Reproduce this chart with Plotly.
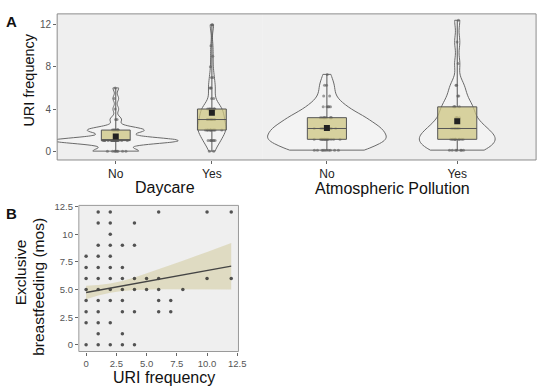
import numpy as np
import plotly.graph_objects as go

# ---------------- data ----------------
groups = ["No", "Yes"]

# URI frequency samples (panel A), read from the jittered points / violins
daycare_no = [0]*8 + [1]*22 + [2]*10 + [3]*2 + [4, 5, 6]
daycare_yes = [0]*2 + [1]*7 + [2]*12 + [3]*10 + [4]*9 + [5]*2 + [6]*3 + [7]*2 + [8, 9, 10, 12, 12]
pollution_no = [0]*10 + [1]*16 + [2]*14 + [3]*10 + [4]*5 + [5]*2 + [6]*2 + [7]
pollution_yes = [0]*7 + [1]*10 + [2]*7 + [3]*4 + [4]*4 + [5]*2 + [6]*2 + [8, 10, 12]

# Panel B scatter: URI frequency vs exclusive breastfeeding (months)
uri_freq = [1, 2, 6, 10, 12,
            1, 2, 4,
            2,
            1, 2, 3, 4,
            0, 1, 2,
            0, 1, 2, 3,
            0, 1, 2, 3, 4, 5, 6, 10, 12,
            0, 1, 2, 3, 4, 5, 6, 8,
            0, 1, 2, 3, 6, 7,
            0, 1, 3, 4, 6, 7,
            0, 1, 2,
            1, 3,
            0, 1, 2, 3, 4]
breastfeeding = [12]*5 + [11]*3 + [10] + [9]*4 + [8]*3 + [7]*4 + [6]*9 + [5]*8 + [4]*6 + [3]*6 + [2]*3 + [1]*2 + [0]*5

# Fitted line and confidence band
fit_x = [0, 12]
fit_y = [4.73, 7.11]
band_x = [0, 1, 2, 3, 4, 6, 8, 10, 12]
band_lo = [4.11, 4.45, 4.71, 4.87, 4.96, 5.02, 5.02, 5.02, 5.01]
band_hi = [5.35, 5.41, 5.55, 5.77, 6.08, 6.82, 7.60, 8.40, 9.21]

# ---------------- layout helpers ----------------
W, H = 550, 390
def xd(a, b):
    return [a / W, b / W]
def yd(top, bottom):
    return [1 - bottom / H, 1 - top / H]

FONT = "Liberation Sans, Arial, sans-serif"
BOX_FILL = "rgba(205,198,130,0.75)"
VIO_LINE = "#6a6a6a"
PT_COL = "rgba(95,95,95,0.6)"

fig = go.Figure()

def add_group(vals, cat, xa, ya, bw, vwidth, jit, gid):
    fig.add_trace(go.Violin(
        x=[cat] * len(vals), y=vals, xaxis=xa, yaxis=ya,
        name=gid, scalegroup=gid,
        points="all", pointpos=0, jitter=jit, spanmode="hard",
        bandwidth=bw, scalemode="width", width=vwidth,
        line=dict(color=VIO_LINE, width=1),
        fillcolor="rgba(255,255,255,0.25)",
        marker=dict(size=3, color=PT_COL),
        box_visible=False, meanline_visible=False,
        showlegend=False, hoverinfo="skip"))
    fig.add_trace(go.Box(
        x=[cat] * len(vals), y=vals, xaxis=xa, yaxis=ya,
        boxpoints=False, width=0.3, whiskerwidth=0,
        fillcolor=BOX_FILL, line=dict(color="#555555", width=1),
        showlegend=False, hoverinfo="skip"))
    fig.add_trace(go.Scatter(
        x=[cat], y=[float(np.mean(vals))], xaxis=xa, yaxis=ya,
        mode="markers", marker=dict(symbol="square", size=6, color="#222222"),
        showlegend=False, hoverinfo="skip"))

add_group(daycare_no, groups[0], "x", "y", 0.3, 1.3, 0.21, "dn")
add_group(daycare_yes, groups[1], "x", "y", 0.6, 0.29, 0.8, "dy")
add_group(pollution_no, groups[0], "x2", "y2", 0.6, 0.91, 0.25, "pn")
add_group(pollution_yes, groups[1], "x2", "y2", 0.7, 0.58, 0.32, "py")

# Panel B
fig.add_trace(go.Scatter(
    x=band_x + band_x[::-1], y=band_hi + band_lo[::-1],
    xaxis="x3", yaxis="y3", mode="lines", fill="toself",
    fillcolor="rgba(205,195,140,0.45)", line=dict(width=0),
    showlegend=False, hoverinfo="skip"))
fig.add_trace(go.Scatter(
    x=uri_freq, y=breastfeeding, xaxis="x3", yaxis="y3", mode="markers",
    marker=dict(size=3.5, color="rgba(30,30,30,0.75)"),
    showlegend=False, hoverinfo="skip"))
fig.add_trace(go.Scatter(
    x=fit_x, y=fit_y, xaxis="x3", yaxis="y3", mode="lines",
    line=dict(color="#444444", width=1.3),
    showlegend=False, hoverinfo="skip"))

tick_common = dict(showgrid=False, zeroline=False, ticks="outside", ticklen=3,
                   tickcolor="#666666", showline=False)

fig.update_layout(
    width=W, height=H, margin=dict(l=0, r=0, t=0, b=0),
    paper_bgcolor="white", plot_bgcolor="#EFEFEF",
    font=dict(family=FONT, color="#222222"),
    violinmode="overlay", boxmode="overlay",
    xaxis=dict(domain=xd(58, 266), anchor="y", type="category",
               categoryarray=groups, range=[-0.61, 1.523],
               tickfont=dict(size=12, color="#222222"), **tick_common),
    yaxis=dict(domain=yd(9, 157), anchor="x", range=[-0.84, 13.03],
               tickvals=[0, 4, 8, 12], tickfont=dict(size=10, color="#555555"),
               **tick_common),
    xaxis2=dict(domain=xd(266, 544), anchor="y2", type="category",
                categoryarray=groups, range=[-0.497, 1.605],
                tickfont=dict(size=12, color="#222222"), **tick_common),
    yaxis2=dict(domain=yd(9, 157), anchor="x2", range=[-0.91, 12.59],
                showticklabels=False, showgrid=False, zeroline=False, ticks=""),
    xaxis3=dict(domain=xd(80, 242), anchor="y3", range=[-0.6, 12.6],
                tickvals=[0, 2.5, 5, 7.5, 10, 12.5],
                ticktext=["0", "2.5", "5.0", "7.5", "10.0", "12.5"],
                tickfont=dict(size=9.5, color="#555555"), **tick_common),
    yaxis3=dict(domain=yd(203, 351), anchor="x3", range=[-0.6, 12.6],
                tickvals=[0, 2.5, 5, 7.5, 10, 12.5],
                ticktext=["0", "2.5", "5.0", "7.5", "10", "12.5"],
                tickfont=dict(size=9.5, color="#555555"), **tick_common),
)

# panel frames
fig.add_shape(type="rect", xref="paper", yref="paper",
              x0=58 / W, x1=544 / W, y0=1 - 157 / H, y1=1 - 9 / H,
              line=dict(color="#8c8c8c", width=1), fillcolor="rgba(0,0,0,0)")
fig.add_shape(type="rect", xref="paper", yref="paper",
              x0=80 / W, x1=242 / W, y0=1 - 351 / H, y1=1 - 203 / H,
              line=dict(color="#9a9a9a", width=1), fillcolor="rgba(0,0,0,0)")

def ann(text, x, y, size, angle=0, bold=False, color="#111111"):
    fig.add_annotation(text=("<b>%s</b>" % text) if bold else text,
                       xref="paper", yref="paper", x=x / W, y=1 - y / H,
                       xanchor="center", yanchor="middle", showarrow=False,
                       textangle=angle, font=dict(size=size, color=color, family=FONT))

ann("A", 12, 17, 15, bold=True)
ann("B", 12, 211, 15, bold=True)
ann("URI frequency", 29, 76, 14.5, angle=-90)
ann("Daycare", 167, 185, 16)
ann("Atmospheric Pollution", 398, 186, 16)
ann("Exclusive", 21, 271, 15.5, angle=-90)
ann("breastfeeding (mos)", 39, 285, 15.5, angle=-90)
ann("URI frequency", 166, 377, 16)

fig.write_html("out.html", config={"displayModeBar": False, "staticPlot": True},
               post_script="document.body.style.margin='0';document.body.style.overflow='hidden';")
